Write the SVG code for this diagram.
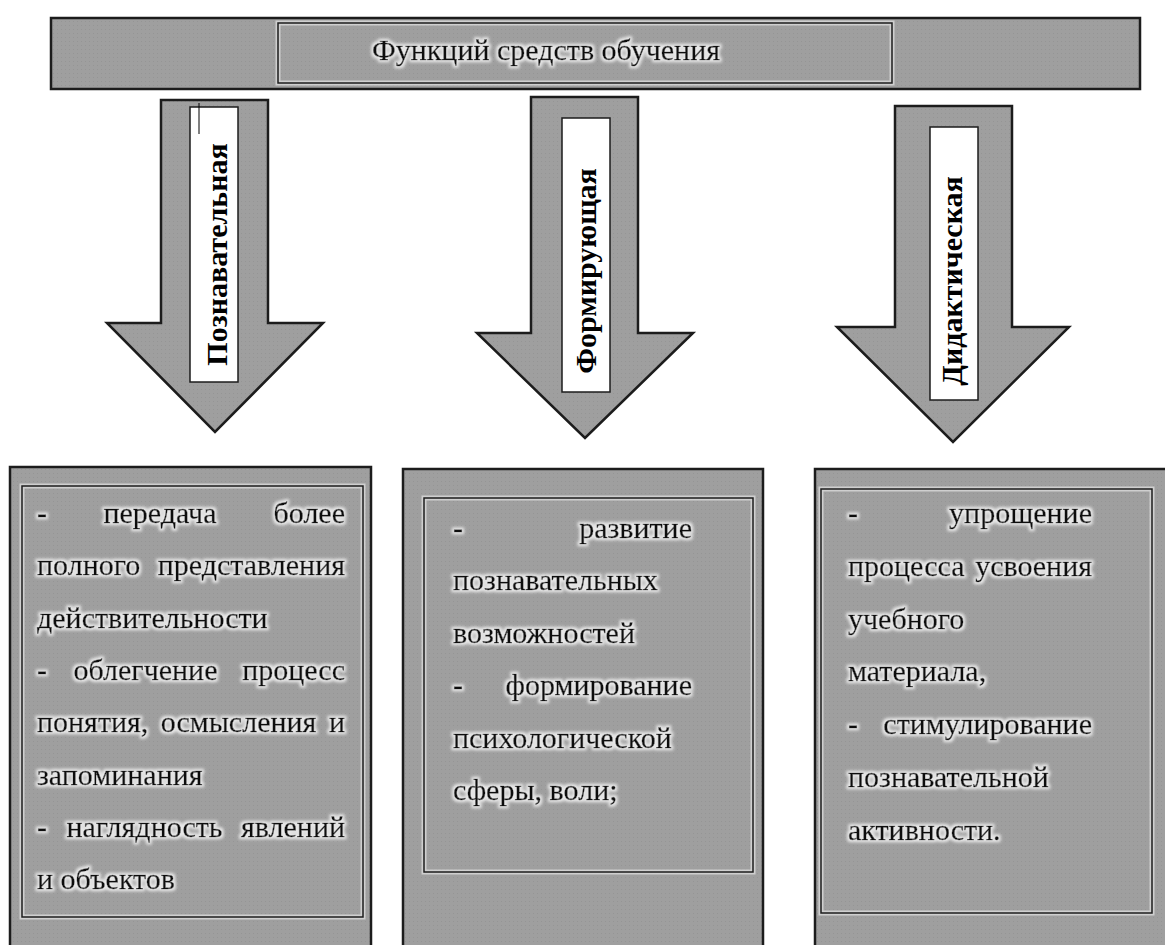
<svg xmlns="http://www.w3.org/2000/svg" width="1165" height="945" viewBox="0 0 1165 945">
<defs>
<pattern id="dots" width="4" height="4" patternUnits="userSpaceOnUse">
<rect width="4" height="4" fill="#9f9f9f"/>
<rect x="1" y="1" width="1" height="1" fill="#959595"/>
</pattern>
<filter id="halo" x="-5%" y="-20%" width="110%" height="140%">
<feMorphology in="SourceAlpha" operator="dilate" radius="1.6" result="d"/>
<feGaussianBlur in="d" stdDeviation="1.4" result="b"/>
<feFlood flood-color="#e8e8e8"/>
<feComposite in2="b" operator="in" result="h"/>
<feMerge><feMergeNode in="h"/><feMergeNode in="SourceGraphic"/></feMerge>
</filter>
</defs>
<style>
.shape{fill:url(#dots);stroke:#1c1c1c;stroke-width:2.5;stroke-linejoin:miter}
.inner{fill:none;stroke:#1c1c1c;stroke-width:1.5}
.glow{fill:none;stroke:#cfcfcf;stroke-width:5}
.lab{fill:#fff;stroke:#1c1c1c;stroke-width:1.5}
.t{font-family:"Liberation Serif","Times New Roman",serif;font-size:30px;fill:#0a0a0a;stroke:#0a0a0a;stroke-width:0.45}
.v{font-family:"Liberation Serif","Times New Roman",serif;font-size:30px;font-weight:bold;fill:#000}
</style>
<rect width="1165" height="945" fill="#fff"/>

<g id="title">
<rect class="shape" x="51" y="18" width="1089" height="71"/>
<rect class="glow" x="278" y="23" width="614" height="60"/>
<rect class="inner" x="278" y="23" width="614" height="60"/>
<text class="t" x="372" y="60" filter="url(#halo)">Функций средств обучения</text>
</g>

<g id="connectors">
<g id="arrow-poznavatelnaya">
<path class="shape" d="M161,100 H268 V323 H323 L215,432 L107,323 H161 Z"/>
<rect class="lab" x="190" y="107" width="48" height="275"/>
<line x1="199" y1="103" x2="199" y2="134" stroke="#000" stroke-width="1"/>
<text class="v" transform="translate(227,254.5) rotate(-90)" text-anchor="middle">Познавательная</text>
</g>
<g id="arrow-formiruyushchaya">
<path class="shape" d="M531,97 H638 V333 H693 L585,438 L477,333 H531 Z"/>
<rect class="lab" x="562" y="118" width="48" height="274"/>
<text class="v" transform="translate(596,271) rotate(-90)" text-anchor="middle">Формирующая</text>
</g>
<g id="arrow-didakticheskaya">
<path class="shape" d="M895,106 H1012 V327 H1069 L953,442 L837,327 H895 Z"/>
<rect class="lab" x="930" y="127" width="48" height="273"/>
<text class="v" transform="translate(962,281) rotate(-90)" text-anchor="middle">Дидактическая</text>
</g>
</g>

<g id="box1">
<rect class="shape" x="10" y="467" width="361" height="490"/>
<rect class="glow" x="22" y="486" width="341" height="431"/>
<rect class="inner" x="22" y="486" width="341" height="431"/>
<g class="t" filter="url(#halo)">
<text x="37" y="523">-</text><text x="160" y="523" text-anchor="middle">передача</text><text x="345" y="523" text-anchor="end">более</text>
<text x="37" y="575.3">полного</text><text x="345" y="575.3" text-anchor="end">представления</text>
<text x="37" y="627.6">действительности</text>
<text x="37" y="679.9">-</text><text x="145.5" y="679.9" text-anchor="middle">облегчение</text><text x="345" y="679.9" text-anchor="end">процесс</text>
<text x="37" y="732.2">понятия,</text><text x="238.5" y="732.2" text-anchor="middle">осмысления</text><text x="345" y="732.2" text-anchor="end">и</text>
<text x="37" y="784.5">запоминания</text>
<text x="37" y="836.8">-</text><text x="144.5" y="836.8" text-anchor="middle">наглядность</text><text x="345" y="836.8" text-anchor="end">явлений</text>
<text x="37" y="889.1">и объектов</text>
</g>
</g>

<g id="box2">
<rect class="shape" x="403" y="469" width="360" height="490"/>
<rect class="glow" x="424" y="498" width="329" height="374"/>
<rect class="inner" x="424" y="498" width="329" height="374"/>
<g class="t" filter="url(#halo)">
<text x="453" y="538">-</text><text x="692" y="538" text-anchor="end">развитие</text>
<text x="453" y="590.4">познавательных</text>
<text x="453" y="642.8">возможностей</text>
<text x="453" y="695.2">-</text><text x="692" y="695.2" text-anchor="end">формирование</text>
<text x="453" y="747.6">психологической</text>
<text x="453" y="800">сферы, воли;</text>
</g>
</g>

<g id="box3">
<rect class="shape" x="815" y="469" width="360" height="490"/>
<rect class="glow" x="821" y="489" width="331" height="424"/>
<rect class="inner" x="821" y="489" width="331" height="424"/>
<g class="t" filter="url(#halo)">
<text x="848" y="523">-</text><text x="1092" y="523" text-anchor="end">упрощение</text>
<text x="848" y="575.8">процесса</text><text x="1092" y="575.8" text-anchor="end">усвоения</text>
<text x="848" y="628.6">учебного</text>
<text x="848" y="681.4">материала,</text>
<text x="848" y="734.2">-</text><text x="1092" y="734.2" text-anchor="end">стимулирование</text>
<text x="848" y="787">познавательной</text>
<text x="848" y="839.8">активности.</text>
</g>
</g>
</svg>
